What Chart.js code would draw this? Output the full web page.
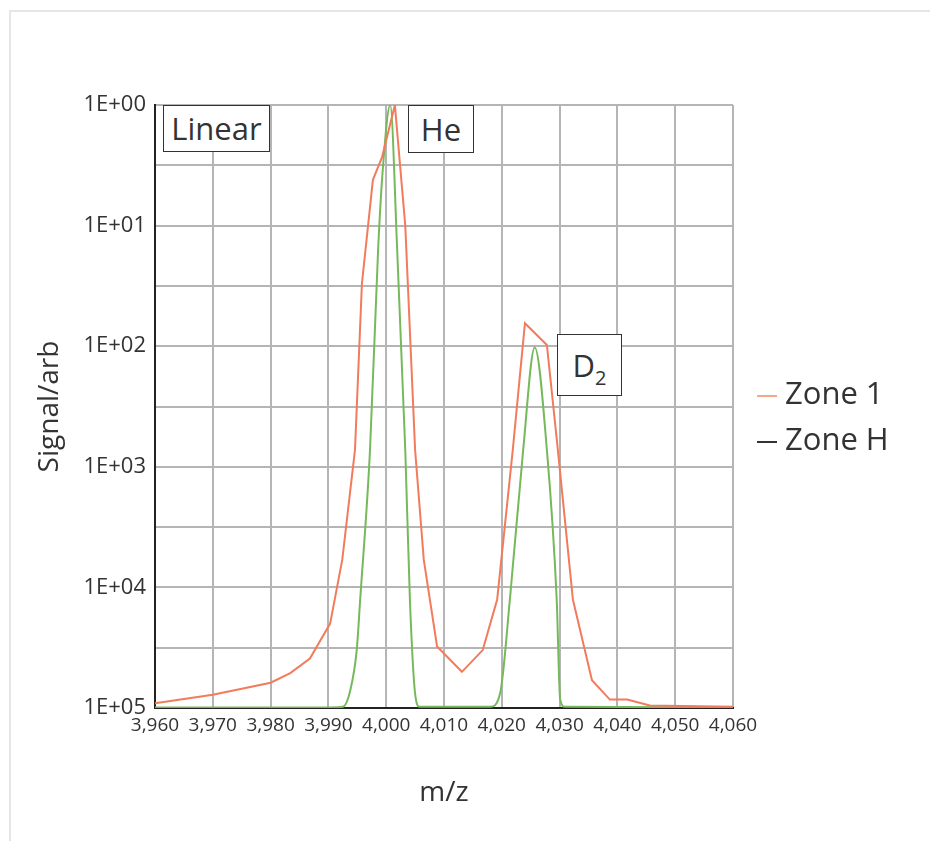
<!DOCTYPE html>
<html>
<head>
<meta charset="utf-8">
<script src="https://cdn.jsdelivr.net/npm/chart.js@4.4.1/dist/chart.umd.min.js"></script>
<style>
  html, body { margin: 0; padding: 0; background: #fff; width: 930px; height: 841px; overflow: hidden; }
  #card { position: absolute; left: 9px; top: 10px; width: 960px; height: 900px; border: 2px solid #e6e6e6; box-sizing: border-box; }
  #wrap { position: absolute; left: 0; top: 0; width: 930px; height: 841px; }
  .box { position: absolute; background: #fff; border: 1.5px solid #333; box-sizing: border-box; color: #333;
         font-family: 'Open Sans', sans-serif; font-size: 31px; display: flex; align-items: center; justify-content: center; line-height: 1; }
  .box sub { font-size: 20px; vertical-align: -8px; line-height: 0; }
  .leg { position: absolute; font-family: 'Open Sans', sans-serif; font-size: 31px; color: #333; line-height: 1; white-space: nowrap; }
  .legline { position: absolute; width: 20px; height: 2px; }
</style>
</head>
<body>
<div id="card"></div>
<div id="wrap"><canvas id="c" width="930" height="841"></canvas></div>
<div class="box" style="left:163px; top:105px; width:107px; height:47px;">Linear</div>
<div class="box" style="left:408px; top:105px; width:66px; height:48px;">He</div>
<div class="box" style="left:557px; top:334px; width:65px; height:62px;"><span>D<sub>2</sub></span></div>
<div class="legline" style="left:757px; top:395px; background:#f5a68f;"></div>
<div class="leg" style="left:785px; top:377px;">Zone 1</div>
<div class="legline" style="left:757px; top:441px; background:#333;"></div>
<div class="leg" style="left:785px; top:423px;">Zone H</div>
<script>
// ---- data ----
const zone1X = [3960, 3970, 3980, 3983.4, 3986.8, 3990.3, 3992.4, 3994.6, 3995.8, 3997.7, 3999.3, 4001.5, 4003.3, 4005.0, 4006.5, 4008.8, 4013.1, 4016.7, 4019.2, 4021.9, 4024.0, 4027.8, 4029.7, 4032.3, 4035.6, 4038.7, 4041.7, 4045.6, 4060];
const zone1Y = [0.04, 0.11, 0.21, 0.29, 0.41, 0.70, 1.23, 2.14, 3.52, 4.38, 4.57, 5.00, 4.00, 2.14, 1.23, 0.51, 0.30, 0.48, 0.90, 2.14, 3.19, 3.01, 2.14, 0.90, 0.23, 0.07, 0.07, 0.02, 0.01];
const zoneHX = [3960, 3990.3, 3992.5, 3993.8, 3994.9, 3995.5, 3997.2, 3998.6, 3999.4, 4000.7, 4001.9, 4003.3, 4004.1, 4005.0, 4005.8, 4018.0, 4019.7, 4021.4, 4023.7, 4025.7, 4027.8, 4029.5, 4030.1, 4030.9, 4060];
const zoneHY = [0.005, 0.005, 0.01, 0.15, 0.48, 0.90, 2.14, 3.80, 4.46, 5.00, 3.80, 2.14, 0.90, 0.12, 0.01, 0.01, 0.12, 0.90, 2.14, 2.99, 2.14, 0.90, 0.07, 0.01, 0.005];
const yTickLabels = ['1E+05', '1E+04', '1E+03', '1E+02', '1E+01', '1E+00'];
const xMin = 3960, xMax = 4060, xStep = 10;
const seriesNames = ['Zone 1', 'Zone H'];

const toPts = (xs, ys) => xs.map((x, i) => ({ x: x, y: ys[i] }));

new Chart(document.getElementById('c'), {
  type: 'line',
  data: {
    datasets: [
      { label: seriesNames[0], data: toPts(zone1X, zone1Y), borderColor: '#f27b5c', borderWidth: 2, pointRadius: 0, tension: 0, fill: false },
      { label: seriesNames[1], data: toPts(zoneHX, zoneHY), borderColor: '#76b95b', borderWidth: 2, pointRadius: 0, cubicInterpolationMode: 'monotone', fill: false }
    ]
  },
  options: {
    responsive: false,
    animation: false,
    layout: { padding: { left: 30, right: 197, top: 105, bottom: 30 } },
    plugins: { legend: { display: false }, tooltip: { enabled: false } },
    scales: {
      x: {
        type: 'linear', min: xMin, max: xMax,
        afterFit: s => { s.height = 103; },
        ticks: {
          stepSize: xStep, autoSkip: false, maxRotation: 0, padding: 6, color: '#333',
          font: { family: "'Open Sans', sans-serif", size: 19 },
          callback: v => Number(v).toLocaleString('en-US')
        },
        grid: { color: '#b5b5b5', lineWidth: 2, drawTicks: false },
        border: { color: '#222', width: 2 },
        title: { display: true, text: 'm/z', color: '#333', font: { family: 'Open Sans', size: 28 }, padding: { top: 0, bottom: 1 } }
      },
      y: {
        type: 'linear', min: 0, max: 5,
        afterFit: s => { s.width = 125; },
        ticks: {
          stepSize: 0.5, autoSkip: false, padding: 9, color: '#333',
          font: { family: 'Open Sans', size: 22 },
          callback: v => Number.isInteger(v) ? yTickLabels[v] : ''
        },
        grid: { color: '#b5b5b5', lineWidth: 2, drawTicks: false },
        border: { color: '#222', width: 2 },
        title: { display: true, text: 'Signal/arb', color: '#333', font: { family: 'Open Sans', size: 28 }, padding: { top: 3, bottom: 0 } }
      }
    }
  }
});
</script>
</body>
</html>
